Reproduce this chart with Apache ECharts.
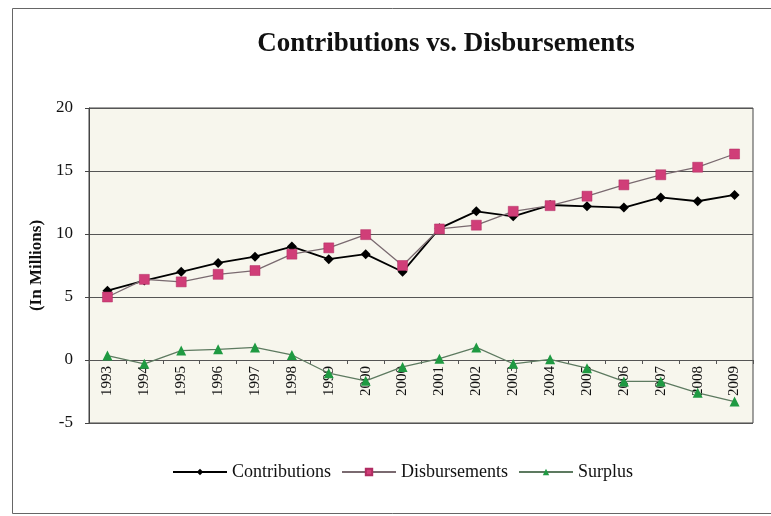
<!DOCTYPE html>
<html>
<head>
<meta charset="utf-8">
<script src="https://cdn.jsdelivr.net/npm/echarts@6/dist/echarts.min.js"></script>
<style>
  html, body { margin: 0; padding: 0; background: #ffffff; }
  #chart { width: 771px; height: 516px; }
</style>
</head>
<body>
<div id="chart"></div>
<script>
// Fiscal years (the source table lists 2000 twice)
const years = ['1993', '1994', '1995', '1996', '1997', '1998', '1999', '2000', '2000',
  '2001', '2002', '2003', '2004', '2005', '2006', '2007', '2008', '2009'];

// Amounts in millions
const contributions = [5.5, 6.3, 7.0, 7.7, 8.2, 9.0, 8.0, 8.4, 7.0,
  10.45, 11.8, 11.4, 12.3, 12.2, 12.1, 12.9, 12.6, 13.1];
const disbursements = [5.0, 6.4, 6.2, 6.8, 7.1, 8.4, 8.9, 9.95, 7.5,
  10.4, 10.7, 11.8, 12.25, 13.0, 13.9, 14.7, 15.3, 16.35];
const surplus = [0.35, -0.3, 0.75, 0.85, 1.0, 0.4, -1.05, -1.65, -0.55,
  0.1, 1.0, -0.3, 0.05, -0.65, -1.7, -1.7, -2.6, -3.3];

const yTicks = { min: -5, max: 20, interval: 5 };
const serif = '"Liberation Serif", "DejaVu Serif", serif';

// plot box, in pixels
const plot = { left: 89, right: 18, top: 108, bottom: 93 };
const plotHeight = 516 - plot.top - plot.bottom;
// the category axis sits on the zero line, lifted from the bottom edge
const zeroLift = plotHeight * (0 - yTicks.min) / (yTicks.max - yTicks.min);

const chart = echarts.init(document.getElementById('chart'), null, { renderer: 'canvas' });

chart.setOption({
  animation: false,
  backgroundColor: '#ffffff',
  graphic: [{
    type: 'rect',
    shape: { x: 12.5, y: 8.5, width: 780, height: 505 },
    style: { fill: 'none', stroke: '#666666', lineWidth: 1 },
    silent: true,
    z: -10
  }],
  title: {
    text: 'Contributions vs. Disbursements',
    left: 441,
    top: 26,
    textAlign: 'center',
    textStyle: { fontFamily: serif, fontSize: 27, fontWeight: 'bold', color: '#111111' }
  },
  legend: {
    bottom: 30,
    left: 167,
    itemWidth: 54,
    itemHeight: 8,
    itemGap: 10,
    textStyle: { fontFamily: serif, fontSize: 18, color: '#111111', padding: [0, 0, 0, 0] },
    data: ['Contributions', 'Disbursements', 'Surplus']
  },
  grid: {
    left: plot.left, right: plot.right, top: plot.top, bottom: plot.bottom,
    show: true,
    backgroundColor: '#f7f6ed',
    borderColor: '#444444',
    borderWidth: 1
  },
  xAxis: {
    type: 'category',
    data: years,
    boundaryGap: true,
    position: 'bottom',
    offset: -zeroLift,
    axisLine: { onZero: false, lineStyle: { color: '#555555', width: 1 } },
    axisTick: { show: true, length: 4, inside: false, lineStyle: { color: '#555555' } },
    axisLabel: {
      rotate: 90,
      interval: 0,
      margin: 6,
      fontFamily: serif,
      fontSize: 15,
      color: '#111111'
    },
    splitLine: { show: false }
  },
  yAxis: {
    type: 'value',
    min: yTicks.min,
    max: yTicks.max,
    interval: yTicks.interval,
    name: '(In Millions)',
    nameLocation: 'middle',
    nameGap: 44,
    nameTextStyle: { fontFamily: serif, fontSize: 17, fontWeight: 'bold', color: '#111111' },
    axisLine: { show: true, lineStyle: { color: '#444444' } },
    axisTick: { show: true, length: 4, lineStyle: { color: '#444444' } },
    axisLabel: { fontFamily: serif, fontSize: 17, color: '#111111', margin: 16 },
    splitLine: { show: true, lineStyle: { color: '#555555', width: 1 } }
  },
  series: [
    {
      name: 'Contributions',
      type: 'line',
      data: contributions,
      symbol: 'diamond',
      symbolSize: 10,
      lineStyle: { color: '#000000', width: 1.8 },
      itemStyle: { color: '#000000' },
      z: 3
    },
    {
      name: 'Disbursements',
      type: 'line',
      data: disbursements,
      symbol: 'rect',
      symbolSize: 10,
      lineStyle: { color: '#7a6a70', width: 1.3 },
      itemStyle: { color: '#d03e78', borderColor: '#b02c62', borderWidth: 0.5 },
      z: 4
    },
    {
      name: 'Surplus',
      type: 'line',
      data: surplus,
      symbol: 'triangle',
      symbolSize: 10,
      lineStyle: { color: '#5d7a60', width: 1.3 },
      itemStyle: { color: '#1f9a42' },
      z: 5
    }
  ]
});
</script>
</body>
</html>
